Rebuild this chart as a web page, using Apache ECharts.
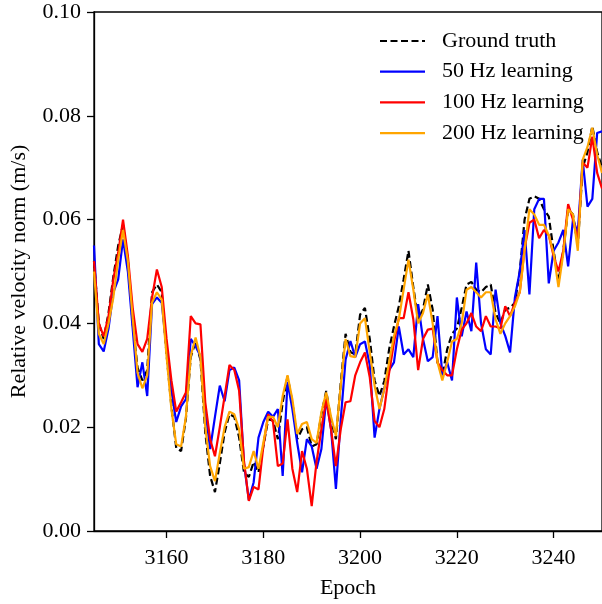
<!DOCTYPE html>
<html>
<head>
<meta charset="utf-8">
<script src="https://cdn.jsdelivr.net/npm/echarts@6/dist/echarts.min.js"></script>
<style>
html,body{margin:0;padding:0;background:#fff;}
#c{width:602px;height:604px;}
</style>
</head>
<body>
<div id="c"></div>
<script>
const epochStart = 3145;
const epochEnd = 3250;
const xTicks = [3160, 3180, 3200, 3220, 3240];
const seriesNames = ["Ground truth", "50 Hz learning", "100 Hz learning", "200 Hz learning"];

const groundTruth = [
0.052,0.040,0.037,0.042,0.049,0.055,0.059,0.052,0.040,0.0315,
0.029,0.031,0.046,0.0475,0.046,0.034,0.024,0.016,0.0154,0.0217,
0.0335,0.0365,0.033,0.019,0.0106,0.0075,0.013,0.019,0.0225,0.022,
0.018,0.0113,0.0104,0.0133,0.0113,0.0163,0.0215,0.0213,0.0177,0.0248,
0.0298,0.0248,0.0177,0.0196,0.020,0.0163,0.0167,0.0225,0.027,0.0213,
0.0177,0.0285,0.038,0.0345,0.034,0.0417,0.043,0.037,0.029,0.026,
0.0289,0.035,0.0394,0.0433,0.0485,0.054,0.047,0.0408,0.0427,0.0475,
0.0427,0.0325,0.030,0.035,0.038,0.039,0.043,0.0475,0.048,0.0465,
0.046,0.047,0.0475,0.042,0.040,0.0427,0.043,0.044,0.050,0.060,
0.064,0.0645,0.064,0.062,0.0606,0.054,0.048,0.054,0.062,0.061,
0.055,0.070,0.073,0.078,0.073,0.070];

const hz50 = [
0.055,0.036,0.0346,0.039,0.046,0.0485,0.0562,0.050,0.039,0.0277,
0.0325,0.026,0.0437,0.045,0.044,0.035,0.027,0.021,0.024,0.0254,
0.037,0.0356,0.0337,0.0235,0.0158,0.022,0.028,0.025,0.031,0.0315,
0.029,0.013,0.006,0.0094,0.018,0.021,0.023,0.022,0.0235,0.0106,
0.0287,0.0235,0.017,0.0113,0.0177,0.0163,0.012,0.0158,0.0254,0.0196,
0.0081,0.0215,0.033,0.0366,0.0335,0.036,0.0365,0.032,0.018,0.0235,
0.0275,0.031,0.0325,0.0394,0.034,0.035,0.0335,0.0437,0.037,0.0327,
0.0335,0.0414,0.030,0.0325,0.029,0.045,0.0375,0.0423,0.0385,0.0517,
0.040,0.035,0.034,0.0465,0.040,0.0376,0.0344,0.045,0.050,0.058,
0.0456,0.062,0.064,0.064,0.0477,0.054,0.0556,0.058,0.051,0.060,
0.0575,0.0715,0.0625,0.064,0.0767,0.077];

const hz100 = [
0.052,0.040,0.0375,0.0414,0.0485,0.0536,0.060,0.053,0.043,0.036,
0.0345,0.037,0.045,0.0504,0.047,0.037,0.029,0.023,0.0248,0.0267,
0.0414,0.040,0.0398,0.0248,0.0177,0.0144,0.020,0.026,0.032,0.031,
0.027,0.0135,0.0058,0.0085,0.008,0.0163,0.0225,0.021,0.0125,0.013,
0.0215,0.012,0.0075,0.0154,0.012,0.0048,0.0133,0.0196,0.0254,0.0196,
0.0125,0.0196,0.0248,0.025,0.030,0.0325,0.0344,0.0296,0.0212,0.020,
0.0235,0.0305,0.0363,0.041,0.041,0.046,0.0408,0.031,0.037,0.0388,
0.039,0.0325,0.031,0.030,0.030,0.035,0.0388,0.040,0.042,0.0394,
0.0385,0.0414,0.0394,0.0394,0.039,0.0433,0.0414,0.044,0.046,0.0544,
0.0594,0.060,0.0564,0.058,0.057,0.053,0.050,0.054,0.063,0.060,
0.056,0.071,0.070,0.076,0.069,0.066];

const hz200 = [
0.050,0.038,0.036,0.040,0.045,0.0523,0.058,0.052,0.041,0.0305,
0.0275,0.030,0.044,0.046,0.0446,0.0337,0.0235,0.0167,0.0163,0.022,
0.0337,0.0373,0.0335,0.020,0.0125,0.0096,0.015,0.020,0.023,0.0225,
0.0196,0.012,0.0123,0.0154,0.012,0.017,0.022,0.022,0.020,0.026,
0.030,0.0254,0.0187,0.0206,0.021,0.0177,0.017,0.0229,0.0267,0.022,
0.0183,0.028,0.037,0.0337,0.0335,0.040,0.041,0.0344,0.028,0.0235,
0.0273,0.0325,0.0375,0.0408,0.0465,0.0523,0.0465,0.040,0.042,0.0456,
0.040,0.0325,0.029,0.0325,0.0365,0.037,0.040,0.0465,0.047,0.046,
0.045,0.046,0.046,0.0408,0.038,0.040,0.0414,0.0433,0.046,0.054,
0.062,0.061,0.059,0.059,0.057,0.0535,0.047,0.0535,0.062,0.061,
0.054,0.0715,0.074,0.0777,0.0725,0.069];

function pairs(arr){ return arr.map((v,i)=>[epochStart+i, v]); }

const FONT = 'Liberation Serif';
const chart = echarts.init(document.getElementById('c'), null, {renderer:'canvas'});
const colors = ['#000000', '#0000ff', '#ff0000', '#ffa500'];
const dashes = [[7, 3.5], null, null, null];
const datasets = [groundTruth, hz50, hz100, hz200];

// legend drawn as graphic (line sample + label)
const legendTop = 41, legendStep = 30.7, legendX0 = 380, legendX1 = 425, legendTextX = 442;
const legendGraphics = [];
seriesNames.forEach((n, i) => {
  const y = legendTop + i * legendStep;
  legendGraphics.push({
    type: 'line', silent: true, z: 100,
    shape: {x1: legendX0, y1: y, x2: legendX1, y2: y},
    style: {stroke: colors[i], lineWidth: 2.2, lineDash: dashes[i] || null}
  });
  legendGraphics.push({
    type: 'text', silent: true, z: 100,
    x: legendTextX, y: y,
    style: {text: n, fontFamily: FONT, fontSize: 22, fill: '#000', textVerticalAlign: 'middle', verticalAlign: 'middle'}
  });
});

chart.setOption({
  animation: false,
  backgroundColor: '#ffffff',
  grid: {left: 94, top: 12, width: 510, height: 520, show: true, borderColor: '#000', borderWidth: 1.3, backgroundColor: 'transparent'},
  xAxis: {
    type: 'value', min: epochStart, max: epochEnd,
    name: 'Epoch', nameLocation: 'middle', nameGap: 46,
    nameTextStyle: {fontFamily: FONT, fontSize: 22, color: '#000'},
    axisLine: {show: true, onZero: false, lineStyle: {color: '#000', width: 1.3}},
    axisTick: {show: true, length: 7, inside: false, lineStyle: {color: '#000', width: 1.3}, customValues: xTicks},
    axisLabel: {fontFamily: FONT, fontSize: 22, color: '#000', margin: 16, customValues: xTicks, formatter: v => String(v)},
    splitLine: {show: false}
  },
  yAxis: {
    type: 'value', min: 0, max: 0.1, interval: 0.02,
    name: 'Relative velocity norm (m/s)', nameLocation: 'middle', nameGap: 64,
    nameTextStyle: {fontFamily: FONT, fontSize: 22, color: '#000'},
    axisLine: {show: true, lineStyle: {color: '#000', width: 1.3}},
    axisTick: {show: true, length: 7, lineStyle: {color: '#000', width: 1.3}},
    axisLabel: {fontFamily: FONT, fontSize: 22, color: '#000', margin: 13, formatter: v => v.toFixed(2)},
    splitLine: {show: false}
  },
  graphic: legendGraphics,
  series: seriesNames.map((n, i) => ({
    name: n, type: 'line', data: pairs(datasets[i]),
    symbol: 'none', showSymbol: false,
    color: colors[i],
    lineStyle: {color: colors[i], width: 2.2, type: dashes[i] || 'solid'},
    z: 2 + i
  }))
});
</script>
</body>
</html>
